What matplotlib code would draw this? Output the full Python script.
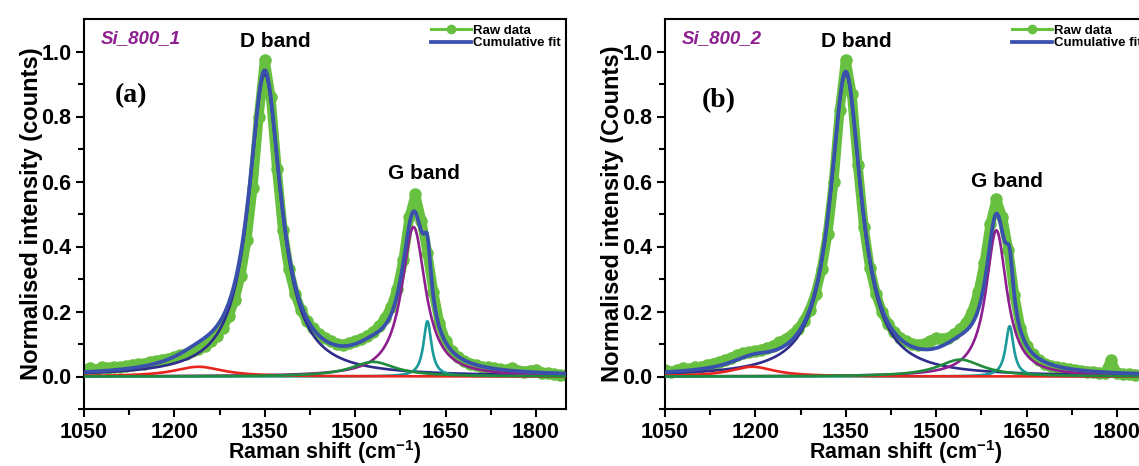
import matplotlib.pyplot as plt
from matplotlib.lines import Line2D
import numpy as np

plt.rcParams['font.family'] = ['Liberation Sans', 'DejaVu Sans']
plt.rcParams['font.weight'] = 'bold'
plt.rcParams['axes.labelweight'] = 'bold'
plt.rcParams['mathtext.fontset'] = 'custom'
plt.rcParams['mathtext.rm'] = 'Liberation Sans:bold'
plt.rcParams['mathtext.bf'] = 'Liberation Sans:bold'
plt.rcParams['mathtext.default'] = 'bf'

# Raman shift of the raw data points (cm-1)
shift = list(range(1050, 1851, 10))

# raw normalised intensity, panel (a) Si_800_1
raw_a = [0.020, 0.025, 0.020, 0.030, 0.025, 0.030, 0.028, 0.032, 0.035, 0.038,
         0.040, 0.045, 0.048, 0.052, 0.055, 0.060, 0.065, 0.070, 0.078, 0.085,
         0.095, 0.110, 0.125, 0.150, 0.185, 0.235, 0.310, 0.420, 0.580, 0.800,
         0.975, 0.860, 0.640, 0.450, 0.330, 0.255, 0.205, 0.170, 0.148, 0.130,
         0.118, 0.108, 0.100, 0.098, 0.102, 0.108, 0.115, 0.125, 0.138, 0.155,
         0.180, 0.215, 0.270, 0.360, 0.490, 0.560, 0.480, 0.380, 0.260, 0.165,
         0.110, 0.078, 0.060, 0.048, 0.040, 0.035, 0.030, 0.028, 0.025, 0.022,
         0.020, 0.025, 0.018, 0.015, 0.018, 0.020, 0.012, 0.010, 0.008, 0.005,
         0.005]

# raw normalised intensity, panel (b) Si_800_2
raw_b = [0.020, 0.015, 0.020, 0.025, 0.022, 0.028, 0.030, 0.035, 0.040, 0.045,
         0.050, 0.058, 0.065, 0.072, 0.075, 0.078, 0.082, 0.088, 0.095, 0.105,
         0.115, 0.128, 0.145, 0.170, 0.205, 0.255, 0.330, 0.440, 0.600, 0.820,
         0.975, 0.870, 0.650, 0.460, 0.335, 0.255, 0.200, 0.162, 0.138, 0.120,
         0.108, 0.100, 0.098, 0.100, 0.110, 0.118, 0.115, 0.120, 0.130, 0.145,
         0.165, 0.200, 0.260, 0.350, 0.470, 0.545, 0.490, 0.390, 0.250, 0.150,
         0.095, 0.068, 0.050, 0.040, 0.032, 0.028, 0.025, 0.022, 0.020, 0.018,
         0.015, 0.015, 0.012, 0.010, 0.050, 0.010, 0.008, 0.008, 0.006, 0.005,
         0.005]

# fitted Lorentzian components: D, G, D', D4, D3
comp_colors = ['#2f2c8c', '#8e1f8f', '#1a9a9a', '#e8251f', '#1e8c3c']
centers_a = [1350, 1597, 1620, 1240, 1530]
heights_a = [0.93, 0.46, 0.17, 0.030, 0.045]
hwhm_a = [32, 24, 8, 50, 45]

centers_b = [1350, 1600, 1622, 1195, 1540]
heights_b = [0.93, 0.45, 0.155, 0.030, 0.052]
hwhm_b = [31, 21, 8, 45, 45]

raw_color = '#68c040'
fit_color = '#3a50ad'


def lorentz(x, c, h, w):
    return h / (1 + ((x - c) / w) ** 2)


fig = plt.figure(figsize=(11.39, 4.66), dpi=100)
ax_a = fig.add_axes([84 / 1139, 57 / 466, 482 / 1139, 390 / 466])
ax_b = fig.add_axes([665 / 1139, 57 / 466, 482 / 1139, 390 / 466])

panels = [
    (ax_a, raw_a, centers_a, heights_a, hwhm_a, 'Si_800_1', '(a)',
     'Normalised intensity (counts)', (1128, 0.865), (1615, 0.625)),
    (ax_b, raw_b, centers_b, heights_b, hwhm_b, 'Si_800_2', '(b)',
     'Normalised intensity (Counts)', (1140, 0.85), (1617, 0.60)),
]

xf = np.arange(1050, 1851, 1.0)

handles = [
    Line2D([], [], color=raw_color, lw=2.2, marker='o', ms=6),
    Line2D([], [], color=fit_color, lw=2.7),
]

for ax, raw, cs, hs, ws, name, tag, ylab, tagpos, gpos in panels:
    ax.plot(shift, raw, '-o', color=raw_color, lw=7, ms=8, zorder=2)
    total = np.zeros_like(xf)
    for c, h, w, col in zip(cs, hs, ws, comp_colors):
        y = lorentz(xf, c, h, w)
        total += y
        ax.plot(xf, y, color=col, lw=1.9, zorder=3)
    ax.plot(xf, total, color=fit_color, lw=2.7, zorder=4)

    ax.set_xlim(1050, 1850)
    ax.set_ylim(-0.1, 1.1)
    ax.set_xticks([1050, 1200, 1350, 1500, 1650, 1800])
    ax.set_xticks(np.arange(1125, 1850, 150), minor=True)
    ax.set_yticks([0.0, 0.2, 0.4, 0.6, 0.8, 1.0])
    ax.set_yticks([-0.1, 0.1, 0.3, 0.5, 0.7, 0.9], minor=True)
    ax.tick_params(which='major', length=6, width=1.5, labelsize=15.5, pad=3)
    ax.tick_params(which='minor', length=4, width=1.5)
    for s in ax.spines.values():
        s.set_linewidth(1.5)

    ax.set_xlabel('Raman shift (cm$^{-1}$)', fontsize=15.5, labelpad=-3)
    ax.set_ylabel(ylab, fontsize=17, labelpad=-1)

    ax.text(1077, 1.04, name, color='#8e1f8f', fontsize=13.5, style='italic',
            fontweight='bold', va='center')
    ax.text(1368, 1.03, 'D band', fontsize=15, ha='center', va='center')
    ax.text(gpos[0], gpos[1], 'G band', fontsize=15, ha='center', va='center')
    ax.text(tagpos[0], tagpos[1], tag, fontsize=20, ha='center', va='center',
            family=['Liberation Serif', 'DejaVu Serif'], fontweight='bold')

    ax.legend(handles, ['Raw data', 'Cumulative fit'], loc='upper right',
              frameon=False, prop={'size': 9.5, 'weight': 'bold'},
              handlelength=3.0, handletextpad=0.15, labelspacing=0.05,
              borderaxespad=0.2, borderpad=0.2)

fig.savefig('out.png', dpi=100)
